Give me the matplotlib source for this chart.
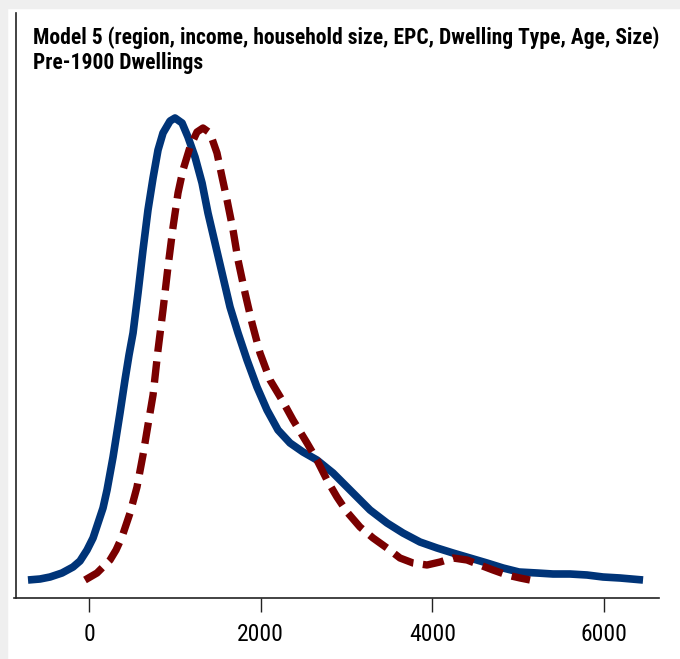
import matplotlib
matplotlib.use('Agg')
import matplotlib.pyplot as plt
from matplotlib.patches import Rectangle
from matplotlib import font_manager

# values (x in axis units, y as density x 1e-6)
blue_x = [-711, -571, -454, -315, -186, -105, -23, 47, 105, 163,
          210, 280, 326, 361, 419, 466, 513, 571, 629, 687,
          746, 804, 862, 944, 1002, 1084, 1153, 1235, 1317, 1386,
          1468, 1550, 1643, 1736, 1841, 1957, 2074, 2202, 2342, 2493,
          2656, 2843, 3076, 3274, 3472, 3658, 3856, 4055, 4241, 4439,
          4637, 4824, 5010, 5220, 5406, 5604, 5802, 5989, 6187, 6455]
blue_y = [18, 19, 21, 25, 31, 37, 48, 60, 75, 90,
          108, 141, 166, 185, 218, 243, 265, 305, 348, 388,
          420, 448, 465, 477, 480, 475, 461, 441, 415, 385,
          355, 325, 291, 265, 238, 211, 188, 168, 155, 146,
          138, 125, 105, 88, 75, 65, 56, 50, 45, 40,
          35, 30, 26, 25, 24, 24, 23, 21, 20, 18]

red_x = [-47, 93, 245, 315, 384, 478, 559, 629, 687, 746,
         804, 862, 920, 979, 1037, 1095, 1177, 1258, 1328, 1410,
         1491, 1550, 1608, 1678, 1736, 1818, 1899, 1992, 2109, 2249,
         2377, 2540, 2656, 2773, 2889, 3006, 3157, 3309, 3472, 3623,
         3775, 3938, 4090, 4241, 4404, 4555, 4707, 4870, 5022, 5138]
red_y = [18, 25, 38, 48, 61, 85, 111, 143, 173, 203,
         248, 288, 331, 371, 405, 428, 451, 466, 470, 465,
         445, 421, 398, 368, 338, 305, 275, 245, 218, 198,
         178, 155, 138, 118, 101, 86, 71, 60, 50, 40,
         35, 33, 36, 40, 38, 33, 28, 23, 20, 18]

xticks = [0, 2000, 4000, 6000]
title = 'Model 5 (region, income, household size, EPC, Dwelling Type, Age, Size)\nPre-1900 Dwellings'

names = {f.name for f in font_manager.fontManager.ttflist}
font = 'Liberation Sans'
for cand in ['Liberation Sans Narrow', 'Roboto Condensed', 'Open Sans Condensed', 'Liberation Sans']:
    if cand in names:
        font = cand
        break

W, H = 680, 659
fig = plt.figure(figsize=(W / 100, H / 100), dpi=100)
fig.patches.append(Rectangle((0, 0), 7 / W, 1, transform=fig.transFigure, color='#efefef', zorder=0))
fig.patches.append(Rectangle((0, 1 - 8 / H), 1, 8 / H, transform=fig.transFigure, color='#efefef', zorder=0))

ax = fig.add_axes([14 / W, (H - 598) / H, 645 / W, 585 / H])
ax.set_facecolor('none')

scale = 1e-6
ax.plot(blue_x, [v * scale for v in blue_y], color='#003478', lw=5.5,
        solid_joinstyle='round', solid_capstyle='butt')
ax.plot(red_x, [v * scale for v in red_y], color='#7a0000', lw=5.3,
        dashes=(2.9, 1.3), dash_capstyle='butt', dash_joinstyle='round')

ax.set_xlim(-874, 6641)
ax.set_ylim(0, 585 * scale)

for s in ['top', 'right']:
    ax.spines[s].set_visible(False)
ax.spines['left'].set_position(('data', -850))
for s in ['left', 'bottom']:
    ax.spines[s].set_color('#222222')
    ax.spines[s].set_linewidth(1.2)

ax.set_yticks([])
ax.set_xticks(xticks)
ax.set_xticklabels([str(t) for t in xticks], family=font, fontsize=17)
ax.tick_params(axis='x', length=10, width=1, color='#222222', pad=8)

t = ax.text(33 / W, 1 - 26 / H, title, transform=fig.transFigure, family=font,
            fontweight='bold', fontsize=13, va='top', ha='left', linespacing=1.2)

# fit the first title line to the width it has in the reference
r = fig.canvas.get_renderer()
first = ax.text(0, 0, title.split('\n')[0], family=font, fontweight='bold', fontsize=13)
w = first.get_window_extent(r).width
first.remove()
t.set_fontsize(min(13 * 622 / w, 16))

fig.savefig('out.png', dpi=100)
